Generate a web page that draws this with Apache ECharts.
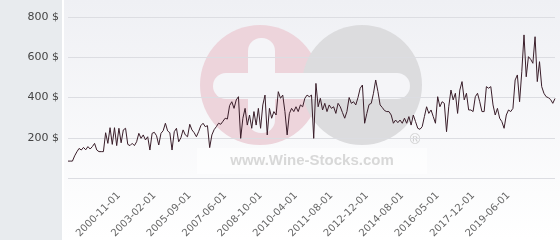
<!DOCTYPE html>
<html><head><meta charset="utf-8">
<script src="https://cdn.jsdelivr.net/npm/echarts/dist/echarts.min.js"></script>
<style>html,body{margin:0;padding:0;background:#fff}#c{width:560px;height:240px}</style>
</head><body><div id="c"></div>
<script>
const dates = [
"1997-09-01","1997-11-01","1998-01-01","1998-03-01","1998-05-01","1998-06-01","1998-08-01","1998-10-01","1998-12-01","1999-02-01",
"1999-03-01","1999-05-01","1999-07-01","1999-09-01","1999-11-01","2000-01-01","2000-02-01","2000-04-01","2000-05-01","2000-06-01",
"2000-08-01","2000-09-01","2000-10-01","2000-11-01","2001-01-01","2001-03-01","2001-05-01","2001-06-01","2001-08-01","2001-10-01",
"2001-12-01","2002-02-01","2002-03-01","2002-05-01","2002-07-01","2002-09-01","2002-10-01","2002-11-01","2002-12-01","2003-02-01",
"2003-04-01","2003-06-01","2003-08-01","2003-10-01","2003-12-01","2004-02-01","2004-04-01","2004-06-01","2004-08-01","2004-10-01",
"2004-12-01","2005-02-01","2005-04-01","2005-06-01","2005-08-01","2005-09-01","2005-10-01","2005-12-01","2006-01-01","2006-02-01",
"2006-04-01","2006-05-01","2006-06-01","2006-08-01","2006-09-01","2006-10-01","2006-12-01","2007-01-01","2007-02-01","2007-03-01",
"2007-05-01","2007-06-01","2007-07-01","2007-08-01","2007-09-01","2007-10-01","2007-11-01","2007-12-01","2008-01-01","2008-02-01",
"2008-03-01","2008-04-01","2008-05-01","2008-06-01","2008-07-01","2008-08-01","2008-09-01","2008-10-01","2008-11-01","2008-12-01",
"2009-02-01","2009-03-01","2009-04-01","2009-05-01","2009-06-01","2009-07-01","2009-09-01","2009-10-01","2009-11-01","2009-12-01",
"2010-01-01","2010-02-01","2010-03-01","2010-04-01","2010-05-01","2010-06-01","2010-07-01","2010-08-01","2010-09-01","2010-10-01",
"2010-11-01","2010-12-01","2011-01-01","2011-02-01","2011-03-01","2011-04-01","2011-05-01","2011-06-01","2011-07-01","2011-08-01",
"2011-09-01","2011-10-01","2011-11-01","2011-12-01","2012-01-01","2012-02-01","2012-03-01","2012-04-01","2012-05-01","2012-06-01",
"2012-07-01","2012-08-01","2012-09-01","2012-10-01","2012-11-01","2012-12-01","2013-01-01","2013-02-01","2013-04-01","2013-05-01",
"2013-06-01","2013-07-01","2013-09-01","2013-10-01","2013-11-01","2013-12-01","2014-01-01","2014-03-01","2014-04-01","2014-05-01",
"2014-07-01","2014-08-01","2014-09-01","2014-11-01","2014-12-01","2015-01-01","2015-03-01","2015-04-01","2015-05-01","2015-06-01",
"2015-08-01","2015-09-01","2015-10-01","2015-12-01","2016-01-01","2016-02-01","2016-04-01","2016-05-01","2016-06-01","2016-07-01",
"2016-09-01","2016-10-01","2016-11-01","2016-12-01","2017-01-01","2017-02-01","2017-04-01","2017-05-01","2017-06-01","2017-07-01",
"2017-08-01","2017-10-01","2017-11-01","2017-12-01","2018-01-01","2018-02-01","2018-03-01","2018-04-01","2018-06-01","2018-07-01",
"2018-08-01","2018-09-01","2018-10-01","2018-11-01","2018-12-01","2019-01-01","2019-03-01","2019-04-01","2019-05-01","2019-06-01",
"2019-07-01","2019-08-01","2019-09-01","2019-10-01","2019-11-01","2019-12-01","2020-01-01","2020-02-01","2020-03-01","2020-04-01",
"2020-05-01","2020-06-01","2020-07-01","2020-08-01","2020-09-01","2020-10-01","2020-11-01","2020-12-01","2021-01-01","2021-02-01",
"2021-03-01"
];
const prices = [
84,84,84,110,130,147,139,152,140,156,
144,156,172,139,131,131,131,225,172,250,
167,250,161,247,175,239,247,167,161,172,
161,180,222,197,214,189,205,139,222,227,
210,164,222,235,272,234,225,139,230,247,
180,200,239,214,205,267,239,225,205,230,
260,272,255,260,151,214,240,255,272,267,
282,297,293,360,379,346,388,404,197,297,
346,263,313,247,330,263,346,247,363,412,
214,346,297,330,313,429,396,412,330,214,
320,346,330,354,330,363,354,396,412,404,
412,197,470,354,396,338,371,330,363,346,
354,321,371,354,325,297,330,400,371,379,
363,400,446,462,272,321,365,371,421,487,
430,363,350,335,330,330,313,272,288,275,
288,272,297,272,305,263,313,280,247,242,
255,305,354,321,338,305,272,404,354,379,
371,230,354,437,388,421,321,437,479,388,
421,338,338,330,404,421,379,330,330,454,
446,454,363,313,346,297,280,247,313,338,
330,346,487,512,379,528,711,503,603,590,
570,702,479,578,454,421,404,399,390,371,395
];
const tickLabels = ["2000-11-01","2003-02-01","2005-09-01","2007-06-01","2008-10-01","2010-04-01",
"2011-08-01","2012-12-01","2014-08-01","2016-05-01","2017-12-01","2019-06-01"];
const yMin = 0, yMax = 800, yStep = 200;
const unit = " $";
const watermark = "www.Wine-Stocks.com";

const chart = echarts.init(document.getElementById('c'), null, {renderer:'canvas'});
chart.setOption({
  animation: false,
  backgroundColor: '#ffffff',
  grid: {left: 68, right: 5, top: 17, bottom: 62, containLabel: false, outerBoundsMode: 'none'},
  graphic: [
    {type:'rect', z:-20, silent:true, shape:{x:0,y:0,width:62,height:240}, style:{fill:'#e8ebee'}},
    {type:'rect', z:-20, silent:true, shape:{x:64,y:0,width:496,height:240},
      style:{fill:new echarts.graphic.LinearGradient(0,0,0,1,[{offset:0,color:'#eff0f4'},{offset:1,color:'#ffffff'}])}},
    {type:'circle', z:-15, silent:true, shape:{cx:260,cy:85,r:60}, style:{fill:'#edd4db'}},
    {type:'circle', z:-15, silent:true, shape:{cx:362,cy:85,r:60}, style:{fill:'#dcdcde'}},
    {type:'rect', z:-14, silent:true, shape:{x:213,y:73,width:197,height:26,r:13}, style:{fill:'#f5f5f8'}},
    {type:'rect', z:-14, silent:true, shape:{x:248,y:38,width:27,height:95,r:13}, style:{fill:'#f5f5f8'}},
    {type:'rect', z:-13, silent:true, shape:{x:197,y:148,width:230,height:26}, style:{fill:'rgba(255,255,255,0.55)'}},
    {type:'text', z:-12, silent:true, style:{text:watermark, x:312, y:161, align:'center', verticalAlign:'middle',
      font:'bold 15px "Liberation Sans"', fill:'#d8d8d8'}},
    {type:'text', z:-12, silent:true, style:{text:'®', x:415, y:140, align:'center', verticalAlign:'middle',
      font:'14px "DejaVu Sans"', fill:'#d0d0d0'}}
  ],
  xAxis: {
    type: 'category', data: dates, boundaryGap: false,
    axisLine: {show:false}, axisTick: {show:false},
    splitLine: {show:false},
    axisLabel: {
      interval: (i, v) => tickLabels.includes(v),
      rotate: 45, margin: 16, fontSize: 10, color: '#666', fontFamily: 'DejaVu Sans'
    }
  },
  yAxis: {
    type: 'value', min: yMin, max: yMax, interval: yStep,
    axisLine: {show:false}, axisTick: {show:false},
    splitLine: {lineStyle: {color:'#dcdde2', width:1}},
    axisLabel: {formatter: v => v === 0 ? '' : v + unit, margin: 9, fontSize: 11, color: '#444', fontFamily: 'DejaVu Sans'}
  },
  series: [{
    type: 'line', data: prices, showSymbol: false, silent: true,
    lineStyle: {width: 1, color: '#3a1e2a'}
  }]
});
</script>
</body></html>
